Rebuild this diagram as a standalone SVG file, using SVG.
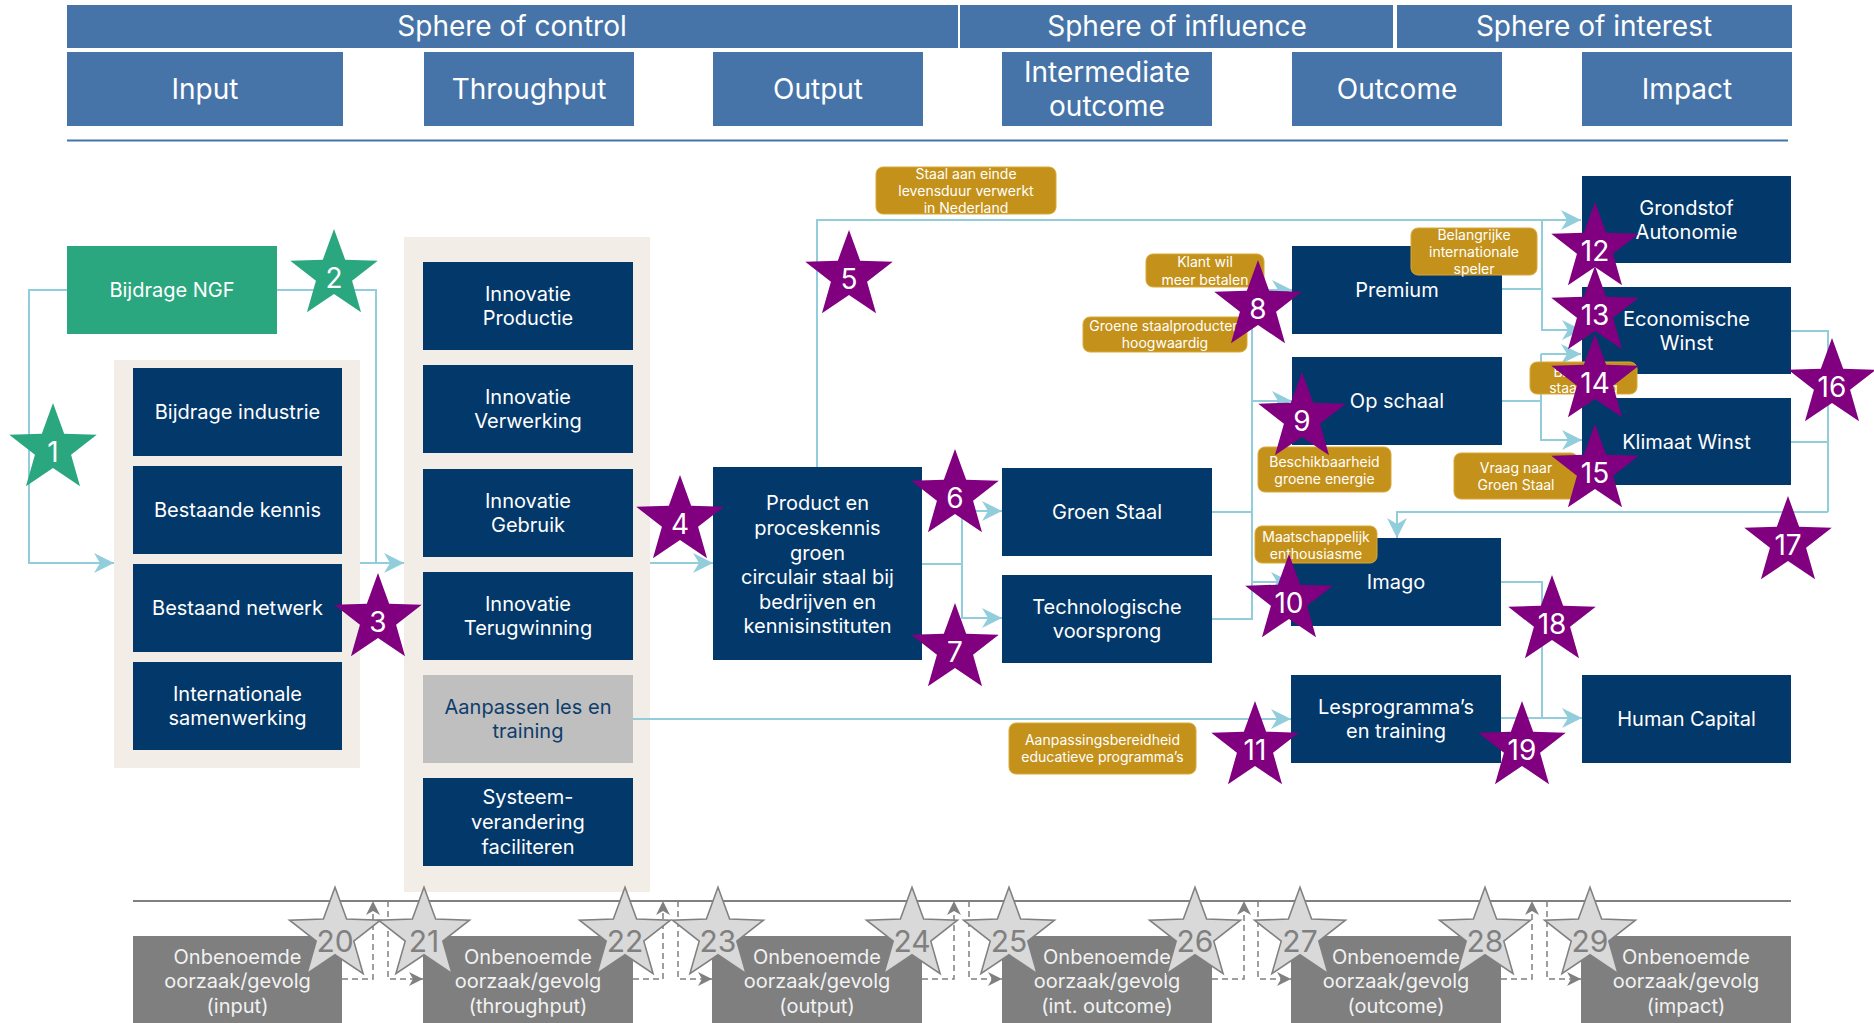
<svg xmlns="http://www.w3.org/2000/svg" xmlns:xlink="http://www.w3.org/1999/xlink" width="1874" height="1023" viewBox="0 0 1874 1023">
<style>
.hdr{fill:#4674A8}
.node{fill:#03386A}
.grey{fill:#BFBFBF}
.ub{fill:#7F7F7F}
.bg{fill:#F2EEE7}
.t{font-family:Inter,'Liberation Sans',sans-serif;fill:#FFFFFF;text-anchor:middle}
.h28{font-size:28px}
.n20{font-size:20px}
.l14{font-size:14px}
.dk{fill:#0E3D6B}
.ubt{fill:#F2F2F2}
.gold{fill:#C4921A;stroke:#D9A838;stroke-width:1}
.conn{fill:none;stroke:#92CDDC;stroke-width:2}
.dash{fill:none;stroke:#808080;stroke-width:1.5;stroke-dasharray:6 4}
.ps{fill:#800080}
.gs{fill:#2AA77F}
.grs{fill:#D9D9D9;stroke:#808080;stroke-width:1.5}
.sn{font-size:28px;fill:#FFFFFF}
.gn{font-size:30px;fill:#808080}
</style>
<defs>
<path id="star" d="M0,-46 L11.17,-15.37 L43.75,-14.21 L18.07,5.87 L27.04,37.21 L0,19 L-27.04,37.21 L-18.07,5.87 L-43.75,-14.21 L-11.17,-15.37 Z"/>
<marker id="ab" markerUnits="userSpaceOnUse" markerWidth="20" markerHeight="20" refX="20" refY="10" orient="auto">
<path d="M0,0 L20,10 L0,20 L6,10 Z" fill="#92CDDC"/>
</marker>
<marker id="ag" markerUnits="userSpaceOnUse" markerWidth="14" markerHeight="14" refX="14" refY="7" orient="auto">
<path d="M0,0 L14,7 L0,14 L4,7 Z" fill="#808080"/>
</marker>
</defs>
<rect width="1874" height="1023" fill="#FFFFFF"/>

<g id="header">
<rect class="hdr" x="67" y="5" width="891" height="43"/>
<text class="t h28" x="512" y="36">Sphere of control</text>
<rect class="hdr" x="960" y="5" width="433" height="43"/>
<text class="t h28" x="1177" y="36">Sphere of influence</text>
<rect class="hdr" x="1397" y="5" width="395" height="43"/>
<text class="t h28" x="1594" y="36">Sphere of interest</text>
<rect class="hdr" x="67" y="52" width="276" height="74"/>
<text class="t h28" x="205" y="99">Input</text>
<rect class="hdr" x="424" y="52" width="210" height="74"/>
<text class="t h28" x="529" y="99">Throughput</text>
<rect class="hdr" x="713" y="52" width="210" height="74"/>
<text class="t h28" x="818" y="99">Output</text>
<rect class="hdr" x="1002" y="52" width="210" height="74"/>
<text class="t h28" x="1107" y="82">Intermediate</text>
<text class="t h28" x="1107" y="116">outcome</text>
<rect class="hdr" x="1292" y="52" width="210" height="74"/>
<text class="t h28" x="1397" y="99">Outcome</text>
<rect class="hdr" x="1582" y="52" width="210" height="74"/>
<text class="t h28" x="1687" y="99">Impact</text>
<line x1="67" y1="140.5" x2="1788" y2="140.5" stroke="#4674A8" stroke-width="2"/>
</g>

<g id="groups">
<rect class="bg" x="114" y="360" width="246" height="408"/>
<rect class="bg" x="404" y="237" width="246" height="655"/>
</g>

<g id="connectors">
<path class="conn" d="M67,290 H29 V563 H114" marker-end="url(#ab)"/>
<path class="conn" d="M277,290 H376 V563 H404" marker-end="url(#ab)"/>
<path class="conn" d="M360,563 H376"/>
<path class="conn" d="M650,563 H713" marker-end="url(#ab)"/>
<path class="conn" d="M817,467 V220 H1581" marker-end="url(#ab)"/>
<path class="conn" d="M922,564 H962 V511 H1002" marker-end="url(#ab)"/>
<path class="conn" d="M962,564 V618 H1002" marker-end="url(#ab)"/>
<path class="conn" d="M1212,512 H1252"/>
<path class="conn" d="M1212,619 H1252 V290"/>
<path class="conn" d="M1252,290 H1292" marker-end="url(#ab)"/>
<path class="conn" d="M1252,401 H1292" marker-end="url(#ab)"/>
<path class="conn" d="M1252,582 H1291" marker-end="url(#ab)"/>
<path class="conn" d="M1502,289 H1542"/>
<path class="conn" d="M1542,220 V330 H1582" marker-end="url(#ab)"/>
<path class="conn" d="M1502,401 H1541"/>
<path class="conn" d="M1541,354 H1581" marker-end="url(#ab)"/>
<path class="conn" d="M1541,354 V440 H1582" marker-end="url(#ab)"/>
<path class="conn" d="M1791,331 H1828 V512"/>
<path class="conn" d="M1791,442 H1828"/>
<path class="conn" d="M1828,512 H1397 V538" marker-end="url(#ab)"/>
<path class="conn" d="M1501,582 H1542 V718"/>
<path class="conn" d="M1501,718 H1582" marker-end="url(#ab)"/>
<path class="conn" d="M633,719 H1291" marker-end="url(#ab)"/>
<line x1="133" y1="901" x2="1791" y2="901" stroke="#808080" stroke-width="2"/>
<path class="dash" d="M342,979 H373 V901" marker-end="url(#ag)"/>
<path class="dash" d="M388,901 V979 H423" marker-end="url(#ag)"/>
<path class="dash" d="M633,979 H663 V901" marker-end="url(#ag)"/>
<path class="dash" d="M678,901 V979 H712" marker-end="url(#ag)"/>
<path class="dash" d="M922,979 H954 V901" marker-end="url(#ag)"/>
<path class="dash" d="M969,901 V979 H1002" marker-end="url(#ag)"/>
<path class="dash" d="M1212,979 H1244 V901" marker-end="url(#ag)"/>
<path class="dash" d="M1258,901 V979 H1291" marker-end="url(#ag)"/>
<path class="dash" d="M1501,979 H1532 V901" marker-end="url(#ag)"/>
<path class="dash" d="M1547,901 V979 H1581" marker-end="url(#ag)"/>
</g>

<g id="n-bijdrage-ngf"><rect x="67" y="246" width="210" height="88" fill="#2AA77F"/><text class="t n20" x="172" y="297">Bijdrage NGF</text></g>
<g id="n-bijdrage-industrie"><rect class="node" x="133" y="368" width="209" height="88"/><text class="t n20" x="237.5" y="419">Bijdrage industrie</text></g>
<g id="n-bestaande-kennis"><rect class="node" x="133" y="466" width="209" height="88"/><text class="t n20" x="237.5" y="517">Bestaande kennis</text></g>
<g id="n-bestaand-netwerk"><rect class="node" x="133" y="564" width="209" height="88"/><text class="t n20" x="237.5" y="615">Bestaand netwerk</text></g>
<g id="n-internationale"><rect class="node" x="133" y="662" width="209" height="88"/><text class="t n20" x="237.5" y="701">Internationale</text><text class="t n20" x="237.5" y="725">samenwerking</text></g>

<g id="n-inn-productie"><rect class="node" x="423" y="262" width="210" height="88"/><text class="t n20" x="528" y="301">Innovatie</text><text class="t n20" x="528" y="325">Productie</text></g>
<g id="n-inn-verwerking"><rect class="node" x="423" y="365" width="210" height="88"/><text class="t n20" x="528" y="404">Innovatie</text><text class="t n20" x="528" y="428">Verwerking</text></g>
<g id="n-inn-gebruik"><rect class="node" x="423" y="469" width="210" height="88"/><text class="t n20" x="528" y="508">Innovatie</text><text class="t n20" x="528" y="532">Gebruik</text></g>
<g id="n-inn-terugwinning"><rect class="node" x="423" y="572" width="210" height="88"/><text class="t n20" x="528" y="611">Innovatie</text><text class="t n20" x="528" y="635">Terugwinning</text></g>
<g id="n-aanpassen"><rect class="grey" x="423" y="675" width="210" height="88"/><text class="t n20 dk" x="528" y="714">Aanpassen les en</text><text class="t n20 dk" x="528" y="738">training</text></g>
<g id="n-systeem"><rect class="node" x="423" y="778" width="210" height="88"/><text class="t n20" x="528" y="804">Systeem-</text><text class="t n20" x="528" y="829">verandering</text><text class="t n20" x="528" y="854">faciliteren</text></g>

<g id="n-product"><rect class="node" x="713" y="467" width="209" height="193"/>
<text class="t n20" x="817.5" y="510">Product en</text><text class="t n20" x="817.5" y="535">proceskennis</text><text class="t n20" x="817.5" y="560">groen</text><text class="t n20" x="817.5" y="584">circulair staal bij</text><text class="t n20" x="817.5" y="609">bedrijven en</text><text class="t n20" x="817.5" y="633">kennisinstituten</text></g>
<g id="n-groen-staal"><rect class="node" x="1002" y="468" width="210" height="88"/><text class="t n20" x="1107" y="519">Groen Staal</text></g>
<g id="n-techno"><rect class="node" x="1002" y="575" width="210" height="88"/><text class="t n20" x="1107" y="614">Technologische</text><text class="t n20" x="1107" y="638">voorsprong</text></g>

<g id="n-premium"><rect class="node" x="1292" y="246" width="210" height="88"/><text class="t n20" x="1397" y="297">Premium</text></g>
<g id="n-op-schaal"><rect class="node" x="1292" y="357" width="210" height="88"/><text class="t n20" x="1397" y="408">Op schaal</text></g>
<g id="n-imago"><rect class="node" x="1291" y="538" width="210" height="88"/><text class="t n20" x="1396" y="589">Imago</text></g>
<g id="n-lesprogramma"><rect class="node" x="1291" y="675" width="210" height="88"/><text class="t n20" x="1396" y="714">Lesprogramma’s</text><text class="t n20" x="1396" y="738">en training</text></g>

<g id="n-grondstof"><rect class="node" x="1582" y="176" width="209" height="87"/><text class="t n20" x="1686.5" y="215">Grondstof</text><text class="t n20" x="1686.5" y="239">Autonomie</text></g>
<g id="n-economische"><rect class="node" x="1582" y="287" width="209" height="87"/><text class="t n20" x="1686.5" y="326">Economische</text><text class="t n20" x="1686.5" y="350">Winst</text></g>
<g id="n-klimaat"><rect class="node" x="1582" y="398" width="209" height="87"/><text class="t n20" x="1686.5" y="449">Klimaat Winst</text></g>
<g id="n-human"><rect class="node" x="1582" y="675" width="209" height="88"/><text class="t n20" x="1686.5" y="726">Human Capital</text></g>

<g id="n-unnamed-input"><rect class="ub" x="133" y="936" width="209" height="90"/><text class="t n20 ubt" x="237.5" y="964">Onbenoemde</text><text class="t n20 ubt" x="237.5" y="988">oorzaak/gevolg</text><text class="t n20 ubt" x="237.5" y="1013">(input)</text></g>
<g id="n-unnamed-throughput"><rect class="ub" x="423" y="936" width="210" height="90"/><text class="t n20 ubt" x="528" y="964">Onbenoemde</text><text class="t n20 ubt" x="528" y="988">oorzaak/gevolg</text><text class="t n20 ubt" x="528" y="1013">(throughput)</text></g>
<g id="n-unnamed-output"><rect class="ub" x="712" y="936" width="210" height="90"/><text class="t n20 ubt" x="817" y="964">Onbenoemde</text><text class="t n20 ubt" x="817" y="988">oorzaak/gevolg</text><text class="t n20 ubt" x="817" y="1013">(output)</text></g>
<g id="n-unnamed-int-outcome"><rect class="ub" x="1002" y="936" width="210" height="90"/><text class="t n20 ubt" x="1107" y="964">Onbenoemde</text><text class="t n20 ubt" x="1107" y="988">oorzaak/gevolg</text><text class="t n20 ubt" x="1107" y="1013">(int. outcome)</text></g>
<g id="n-unnamed-outcome"><rect class="ub" x="1291" y="936" width="210" height="90"/><text class="t n20 ubt" x="1396" y="964">Onbenoemde</text><text class="t n20 ubt" x="1396" y="988">oorzaak/gevolg</text><text class="t n20 ubt" x="1396" y="1013">(outcome)</text></g>
<g id="n-unnamed-impact"><rect class="ub" x="1581" y="936" width="210" height="90"/><text class="t n20 ubt" x="1686" y="964">Onbenoemde</text><text class="t n20 ubt" x="1686" y="988">oorzaak/gevolg</text><text class="t n20 ubt" x="1686" y="1013">(impact)</text></g>

<g id="labels">
<rect class="gold" x="876" y="167" width="180" height="47" rx="7"/>
<text class="t l14" x="966" y="179">Staal aan einde</text><text class="t l14" x="966" y="196">levensduur verwerkt</text><text class="t l14" x="966" y="213">in Nederland</text>
<rect class="gold" x="1146" y="254" width="118" height="33" rx="7"/>
<text class="t l14" x="1205" y="267">Klant wil</text><text class="t l14" x="1205" y="285">meer betalen</text>
<rect class="gold" x="1083" y="317" width="164" height="35" rx="7"/>
<text class="t l14" x="1165" y="331">Groene staalproducten</text><text class="t l14" x="1165" y="348">hoogwaardig</text>
<rect class="gold" x="1411" y="228" width="126" height="47" rx="7"/>
<text class="t l14" x="1474" y="240">Belangrijke</text><text class="t l14" x="1474" y="257">internationale</text><text class="t l14" x="1474" y="274">speler</text>
<rect class="gold" x="1258" y="447" width="133" height="45" rx="7"/>
<text class="t l14" x="1324.5" y="467">Beschikbaarheid</text><text class="t l14" x="1324.5" y="484">groene energie</text>
<rect class="gold" x="1454" y="453" width="124" height="46" rx="7"/>
<text class="t l14" x="1516" y="473">Vraag naar</text><text class="t l14" x="1516" y="490">Groen Staal</text>
<rect class="gold" x="1530" y="362" width="107" height="32" rx="7"/>
<text class="t l14" x="1583.5" y="377">Blijvende</text><text class="t l14" x="1583.5" y="393">staalvraag</text>
<rect class="gold" x="1255" y="526" width="122" height="37" rx="7"/>
<text class="t l14" x="1316" y="542">Maatschappelijk</text><text class="t l14" x="1316" y="559">enthousiasme</text>
<rect class="gold" x="1009" y="723" width="187" height="51" rx="7"/>
<text class="t l14" x="1102.5" y="745">Aanpassingsbereidheid</text><text class="t l14" x="1102.5" y="762">educatieve programma’s</text>
</g>

<g id="stars">
<use href="#star" class="gs" x="53" y="449"/><text class="t sn" x="53" y="462">1</text>
<use href="#star" class="gs" x="334" y="275"/><text class="t sn" x="334" y="288">2</text>
<use href="#star" class="ps" x="378" y="619"/><text class="t sn" x="378" y="632">3</text>
<use href="#star" class="ps" x="680" y="521"/><text class="t sn" x="680" y="534">4</text>
<use href="#star" class="ps" x="849" y="276"/><text class="t sn" x="849" y="289">5</text>
<use href="#star" class="ps" x="955" y="495"/><text class="t sn" x="955" y="508">6</text>
<use href="#star" class="ps" x="955" y="649"/><text class="t sn" x="955" y="662">7</text>
<use href="#star" class="ps" x="1258" y="306"/><text class="t sn" x="1258" y="319">8</text>
<use href="#star" class="ps" x="1302" y="418"/><text class="t sn" x="1302" y="431">9</text>
<use href="#star" class="ps" x="1289" y="600"/><text class="t sn" x="1289" y="613">10</text>
<use href="#star" class="ps" x="1255" y="747"/><text class="t sn" x="1255" y="760">11</text>
<use href="#star" class="ps" x="1595" y="248"/><text class="t sn" x="1595" y="261">12</text>
<use href="#star" class="ps" x="1595" y="312"/><text class="t sn" x="1595" y="325">13</text>
<use href="#star" class="ps" x="1595" y="380"/><text class="t sn" x="1595" y="393">14</text>
<use href="#star" class="ps" x="1595" y="470"/><text class="t sn" x="1595" y="483">15</text>
<use href="#star" class="ps" x="1832" y="384"/><text class="t sn" x="1832" y="397">16</text>
<use href="#star" class="ps" x="1788" y="542"/><text class="t sn" x="1788" y="555">17</text>
<use href="#star" class="ps" x="1552" y="621"/><text class="t sn" x="1552" y="634">18</text>
<use href="#star" class="ps" x="1522" y="747"/><text class="t sn" x="1522" y="760">19</text>
<use href="#star" class="grs" transform="translate(335,935) scale(1.04)"/><text class="t gn" x="335" y="952">20</text>
<use href="#star" class="grs" transform="translate(424,935) scale(1.04)"/><text class="t gn" x="424" y="952">21</text>
<use href="#star" class="grs" transform="translate(625,935) scale(1.04)"/><text class="t gn" x="625" y="952">22</text>
<use href="#star" class="grs" transform="translate(718,935) scale(1.04)"/><text class="t gn" x="718" y="952">23</text>
<use href="#star" class="grs" transform="translate(912,935) scale(1.04)"/><text class="t gn" x="912" y="952">24</text>
<use href="#star" class="grs" transform="translate(1009,935) scale(1.04)"/><text class="t gn" x="1009" y="952">25</text>
<use href="#star" class="grs" transform="translate(1195,935) scale(1.04)"/><text class="t gn" x="1195" y="952">26</text>
<use href="#star" class="grs" transform="translate(1300,935) scale(1.04)"/><text class="t gn" x="1300" y="952">27</text>
<use href="#star" class="grs" transform="translate(1485,935) scale(1.04)"/><text class="t gn" x="1485" y="952">28</text>
<use href="#star" class="grs" transform="translate(1590,935) scale(1.04)"/><text class="t gn" x="1590" y="952">29</text>
</g>
</svg>
